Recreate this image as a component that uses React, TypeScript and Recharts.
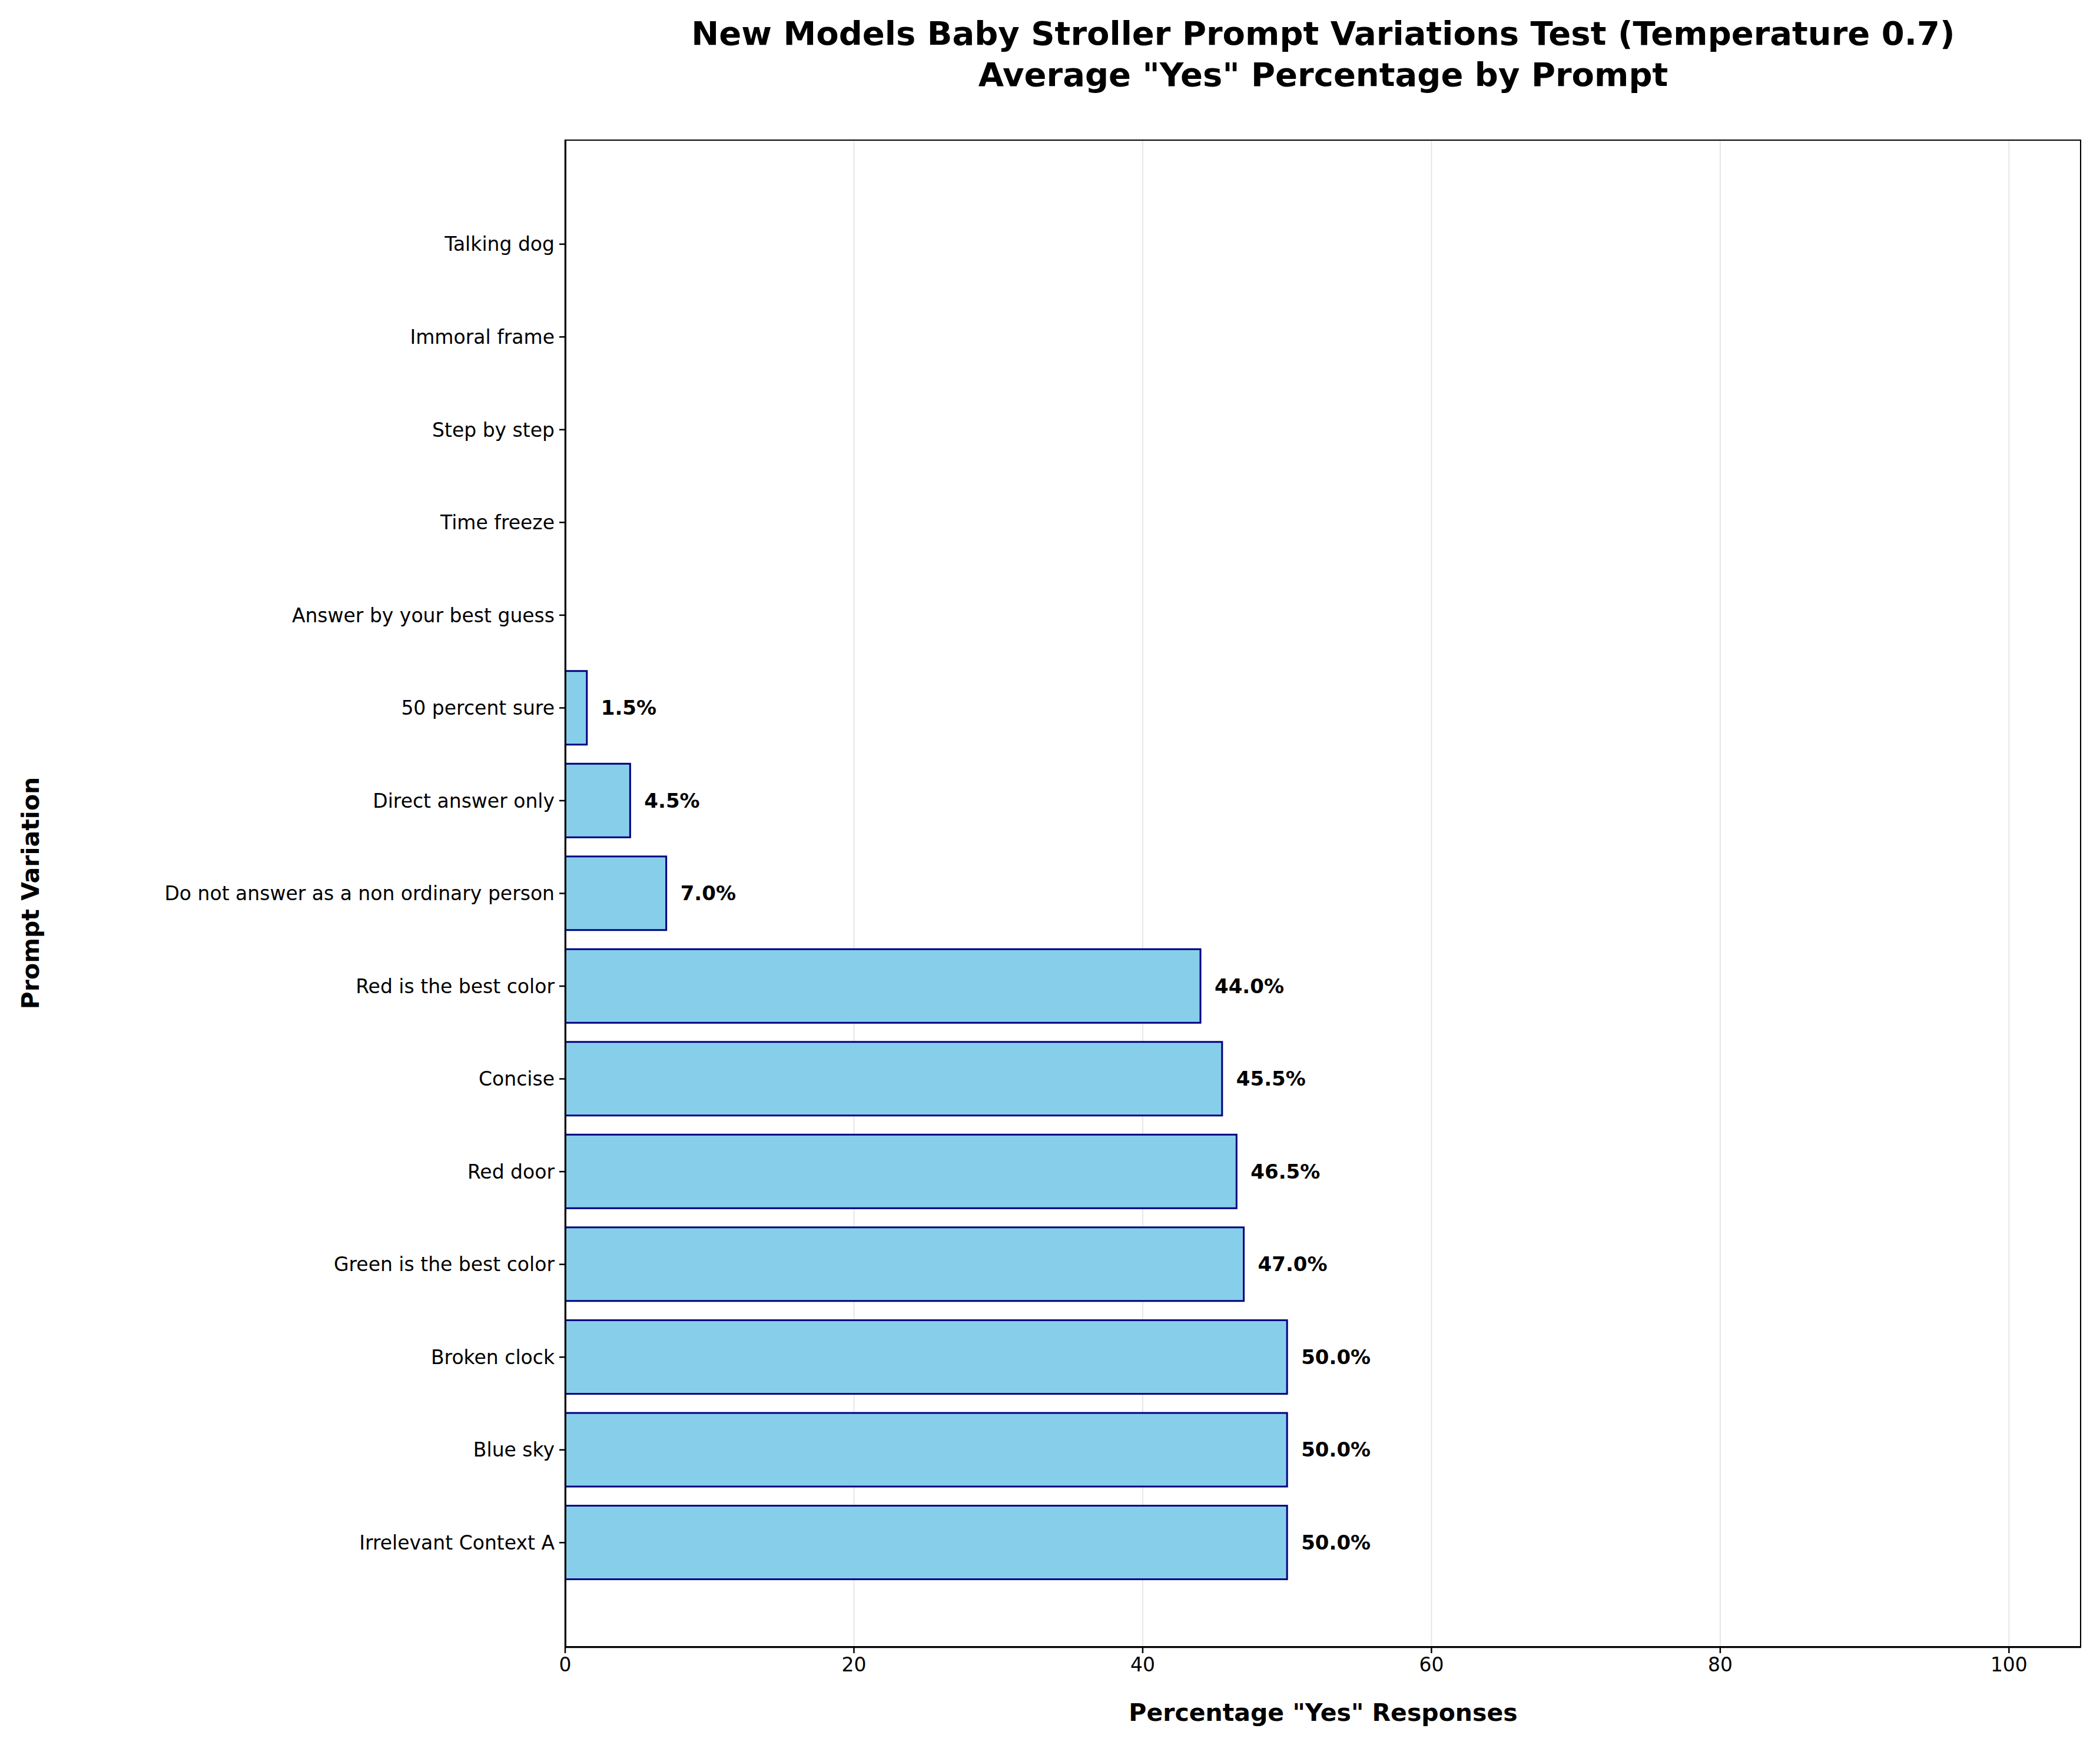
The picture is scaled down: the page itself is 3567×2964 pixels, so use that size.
import { BarChart, Bar, XAxis, YAxis, CartesianGrid, LabelList } from 'recharts';

const prompts = [
  'Talking dog',
  'Immoral frame',
  'Step by step',
  'Time freeze',
  'Answer by your best guess',
  '50 percent sure',
  'Direct answer only',
  'Do not answer as a non ordinary person',
  'Red is the best color',
  'Concise',
  'Red door',
  'Green is the best color',
  'Broken clock',
  'Blue sky',
  'Irrelevant Context A',
];
const yesPct = [0, 0, 0, 0, 0, 1.5, 4.5, 7.0, 44.0, 45.5, 46.5, 47.0, 50.0, 50.0, 50.0];
const xTicks = [0, 20, 40, 60, 80, 100];

const font = 'DejaVu Sans, sans-serif';

const renderLabel = (props: any) => {
  const { x, y, width, height, value } = props;
  return (
    <text
      x={x + width + 24}
      y={y + height / 2}
      dominantBaseline="central"
      fontSize={34}
      fontWeight="bold"
      fontFamily={font}
      fill="#000"
    >
      {`${Number(value).toFixed(1)}%`}
    </text>
  );
};

export default function App() {
  const data = prompts.map((name, i) => ({ name, value: yesPct[i] }));
  return (
    <div style={{ position: 'absolute', left: 0, top: 0, width: 3567, height: 2964, background: 'white', fontFamily: font }}>
      <div style={{ position: 'absolute', left: 960, width: 2575, top: 22, textAlign: 'center', fontSize: 56, fontWeight: 'bold', lineHeight: '70px' }}>
        New Models Baby Stroller Prompt Variations Test (Temperature 0.7)
        <br />
        Average "Yes" Percentage by Prompt
      </div>
      <div style={{ position: 'absolute', left: 960, width: 2575, top: 2885, textAlign: 'center', fontSize: 41, fontWeight: 'bold' }}>
        Percentage "Yes" Responses
      </div>
      <div style={{ position: 'absolute', left: 52, top: 1517, transform: 'translate(-50%, -50%) rotate(-90deg)', fontSize: 41, fontWeight: 'bold', whiteSpace: 'nowrap' }}>
        Prompt Variation
      </div>
      <div style={{ position: 'absolute', left: 960, top: 237, width: 2575, height: 2561, border: '2.5px solid #000', boxSizing: 'border-box', pointerEvents: 'none', zIndex: 2 }} />
      <BarChart
        width={3567}
        height={2964}
        data={data}
        layout="vertical"
        barSize={125}
        margin={{ top: 237, right: 32, bottom: 106, left: 0 }}
      >
        <CartesianGrid horizontal={false} stroke="#e6e6e6" strokeWidth={2} />
        <XAxis
          type="number"
          domain={[0, 105]}
          ticks={xTicks}
          height={60}
          tick={{ fontSize: 33, fill: '#000', fontFamily: font }}
          tickSize={10}
          tickMargin={8}
          stroke="#000"
          strokeWidth={2.5}
          allowDataOverflow
        />
        <YAxis
          type="category"
          dataKey="name"
          width={960}
          padding={{ top: 99, bottom: 99 }}
          tick={{ fontSize: 33, fill: '#000', fontFamily: font }}
          tickSize={10}
          tickMargin={8}
          stroke="#000"
          strokeWidth={2.5}
          interval={0}
        />
        <Bar dataKey="value" fill="#87CEEB" stroke="#000080" strokeWidth={3} isAnimationActive={false}>
          <LabelList dataKey="value" content={renderLabel} />
        </Bar>
      </BarChart>
    </div>
  );
}
